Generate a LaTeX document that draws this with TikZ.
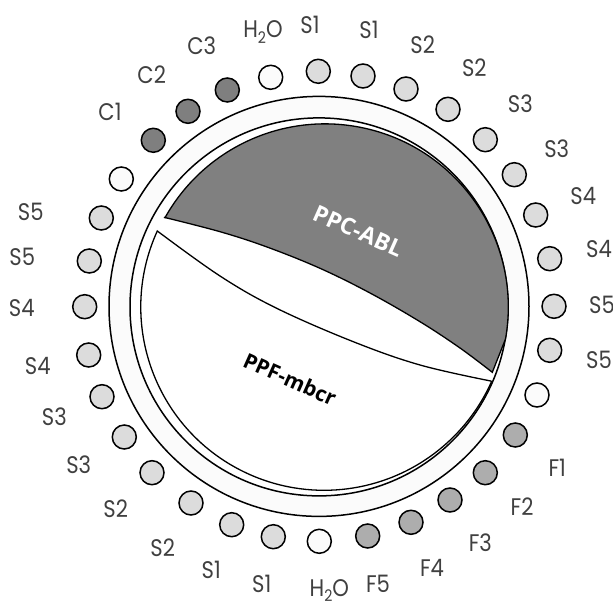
\documentclass[tikz,border=0pt]{standalone}
\usepackage{fontspec}
\setmainfont{Poppins}[FakeStretch=0.88]
\newfontfamily\boldlab{Open Sans}
\definecolor{greyS}{HTML}{DCDCDC}
\definecolor{greyC}{HTML}{7F7F7F}
\definecolor{greyF}{HTML}{ADADAD}
\definecolor{greyW}{HTML}{FBFBFB}
\definecolor{greyP}{HTML}{808080}
\definecolor{labc}{HTML}{404040}
\newcommand{\wat}{H\raisebox{-0.22em}{\fontsize{16}{16}\selectfont 2}O}
\tikzset{
  x=1pt,y=1pt,
  well/.style={circle,draw=black,line width=1.5pt,minimum size=24pt,inner sep=0pt},
  wellS/.style={well,fill=greyS},
  wellC/.style={well,fill=greyC},
  wellF/.style={well,fill=greyF},
  wellW/.style={well,fill=greyW},
  lab/.style={text=labc,inner sep=0pt,font=\fontsize{24}{24}\selectfont},
  ring/.style={draw=black,line width=1.5pt},
  sector/.style={draw=black,line width=1.3pt,line join=miter},
  sectorlabel/.style={inner sep=0pt,font=\boldlab\bfseries\fontsize{23}{23}\selectfont}
}
\begin{document}
\begin{tikzpicture}
\useasboundingbox (0,0) rectangle (613,-601);
\fill[white] (0,0) rectangle (613,-601);
% rings
\draw[ring,fill=greyW] (319,-306.4) circle[radius=210];
\draw[ring,fill=white] (319,-306.9) circle[radius=189];
% sectors
\draw[sector,fill=white] plot[smooth,tension=0.6] coordinates {(490.7,-381) (420,-365) (353.3,-341.7) (276.7,-308.3) (220,-276) (157.3,-231)}
  arc[start angle=155.5,end angle=336,radius=183.3] -- cycle;
\draw[sector,fill=greyP] plot[smooth,tension=0.6] coordinates {(164,-217.3) (220,-231.7) (267,-247) (320,-268.3) (370,-293) (420,-321.7) (460,-348) (492.3,-372.3)}
  -- (505.5,-339) arc[start angle=-10,end angle=150.8,radius=183.3] -- cycle;
\node[sectorlabel,text=white,rotate=-24] (abl) at (358,-231) {PPC-ABL};
\node[sectorlabel,text=black,rotate=-24,font=\boldlab\bfseries\fontsize{21}{21}\selectfont] (mbcr) at (290,-379) {PPF-mbcr};
% wells
\node[wellW] (w01) at (270.7,-77.3) {};
\node[wellS] (w02) at (318.3,-71.3) {};
\node[wellS] (w03) at (363,-76) {};
\node[wellS] (w04) at (406,-89) {};
\node[wellS] (w05) at (448,-109.3) {};
\node[wellS] (w06) at (485.3,-139.7) {};
\node[wellS] (w07) at (514.3,-174.7) {};
\node[wellS] (w08) at (535.7,-215) {};
\node[wellS] (w09) at (549.7,-258.7) {};
\node[wellS] (w10) at (554,-306.3) {};
\node[wellS] (w11) at (549.7,-350.3) {};
\node[wellW] (w12) at (537,-395) {};
\node[wellF] (w13) at (515.3,-435) {};
\node[wellF] (w14) at (485.3,-472.7) {};
\node[wellF] (w15) at (450,-500) {};
\node[wellF] (w16) at (411,-522.3) {};
\node[wellF] (w17) at (367.7,-536) {};
\node[wellW] (w18) at (319.3,-541.3) {};
\node[wellS] (w19) at (273.3,-536.7) {};
\node[wellS] (w20) at (231.7,-524.7) {};
\node[wellS] (w21) at (191,-503) {};
\node[wellS] (w22) at (152,-472.7) {};
\node[wellS] (w23) at (124.3,-437) {};
\node[wellS] (w24) at (102,-396.7) {};
\node[wellS] (w25) at (88.7,-355) {};
\node[wellS] (w26) at (84.7,-306.7) {};
\node[wellS] (w27) at (89.3,-261) {};
\node[wellS] (w28) at (101.3,-218) {};
\node[wellW] (w29) at (121.3,-179) {};
\node[wellC] (w30) at (153.3,-140.3) {};
\node[wellC] (w31) at (188,-111.3) {};
\node[wellC] (w32) at (227.3,-90) {};
% labels
\node[lab] (l01) at (263,-32) {\wat};
\node[lab] (l02) at (310,-25) {S1};
\node[lab] (l03) at (369,-30) {S1};
\node[lab] (l04) at (422.7,-45) {S2};
\node[lab] (l05) at (474.3,-68) {S2};
\node[lab] (l06) at (520.3,-104) {S3};
\node[lab] (l07) at (556.7,-148.7) {S3};
\node[lab] (l08) at (583.3,-195.7) {S4};
\node[lab] (l09) at (599,-249) {S4};
\node[lab] (l10) at (602,-305) {S5};
\node[lab] (l11) at (599,-360) {S5};
\node[lab] (l12) at (557.3,-467.7) {F1};
\node[lab] (l13) at (522,-506.7) {F2};
\node[lab] (l14) at (480.3,-542.3) {F3};
\node[lab] (l15) at (432,-567.7) {F4};
\node[lab] (l16) at (378,-584.3) {F5};
\node[lab] (l17) at (329.3,-590.7) {\wat};
\node[lab] (l18) at (261.7,-584.3) {S1};
\node[lab] (l19) at (211.3,-570) {S1};
\node[lab] (l20) at (162.7,-547.3) {S2};
\node[lab] (l21) at (115.7,-508.3) {S2};
\node[lab] (l22) at (78.7,-465) {S3};
\node[lab] (l23) at (54.3,-416.7) {S3};
\node[lab] (l24) at (37.7,-366) {S4};
\node[lab] (l25) at (21.7,-308.3) {S4};
\node[lab] (l26) at (22.3,-257.3) {S5};
\node[lab] (l27) at (30.7,-211.7) {S5};
\node[lab] (l28) at (110,-112) {C1};
\node[lab] (l29) at (151.7,-75) {C2};
\node[lab] (l30) at (201.7,-45.7) {C3};
\end{tikzpicture}
\end{document}
